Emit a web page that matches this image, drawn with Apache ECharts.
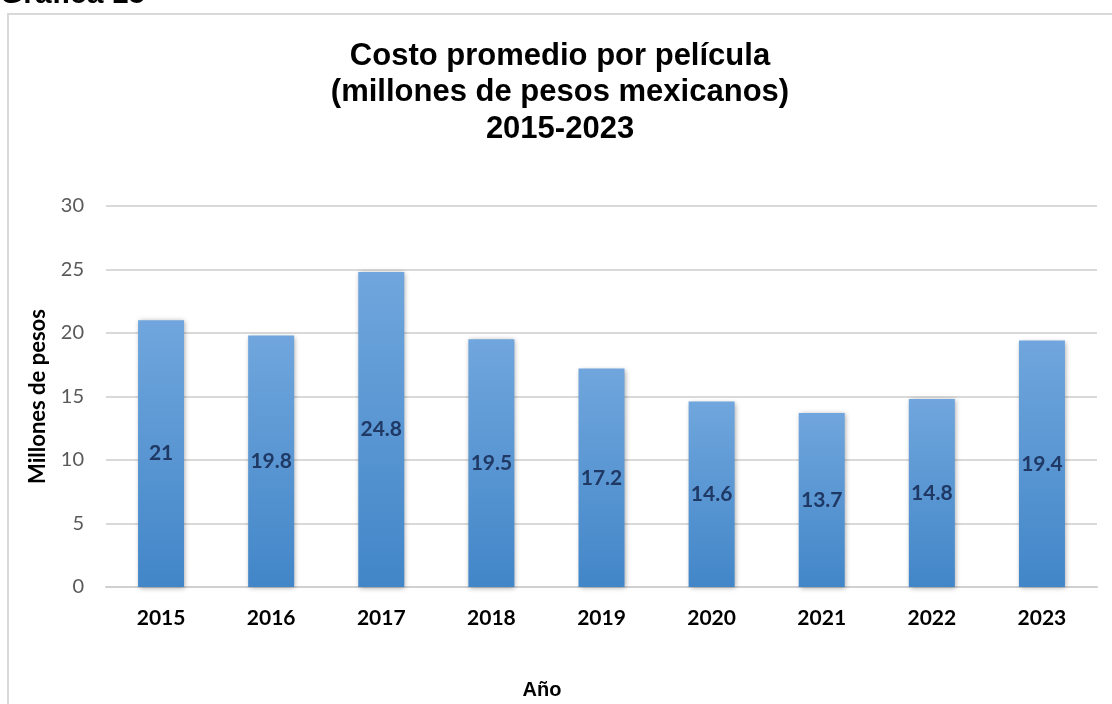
<!DOCTYPE html>
<html>
<head>
<meta charset="utf-8">
<script src="https://cdn.jsdelivr.net/npm/echarts@6/dist/echarts.min.js"></script>
<style>
html,body{margin:0;padding:0;background:#fff;}
#c{width:1112px;height:704px;}
</style>
</head>
<body>
<div id="c"></div>
<script>
var years = ['2015','2016','2017','2018','2019','2020','2021','2022','2023'];
var costs = [21, 19.8, 24.8, 19.5, 17.2, 14.6, 13.7, 14.8, 19.4];
var titleLines = ['Costo promedio por película', '(millones de pesos mexicanos)', '2015-2023'];

var chart = echarts.init(document.getElementById('c'), null, {renderer: 'canvas'});
chart.setOption({
  backgroundColor: '#ffffff',
  animation: false,
  title: {
    text: titleLines.join('\n'),
    left: 555, top: 33, textAlign: 'center',
    textStyle: {fontFamily: 'Liberation Sans, Arial', fontWeight: 'bold', fontSize: 31, lineHeight: 36.5, color: '#000'}
  },
  graphic: [
    {type: 'rect', shape: {x: 8, y: 14, width: 1130, height: 720}, style: {fill: 'none', stroke: '#d9d9d9', lineWidth: 2}, silent: true},
    {type: 'text', x: 0, y: 10, style: {text: 'Gráfica 15', font: 'bold 30px "Liberation Sans", Arial', fill: '#000', textAlign: 'left', textVerticalAlign: 'bottom'}, silent: true},
    {type: 'text', x: 542, y: 690, style: {text: 'Año', font: 'bold 20px "Liberation Sans", Arial', fill: '#000', textAlign: 'center', textVerticalAlign: 'middle'}, silent: true}
  ],
  grid: {left: 106, right: 15, top: 206, bottom: 117},
  xAxis: {
    type: 'category', data: years,
    axisLine: {show: true, lineStyle: {color: '#d0d0d0', width: 2}},
    axisTick: {show: false},
    axisLabel: {margin: 21, color: '#000', fontWeight: 'bold', fontSize: 21, fontFamily: 'Lato, "Open Sans", sans-serif'}
  },
  yAxis: {
    type: 'value', min: 0, max: 30, interval: 5,
    axisLine: {show: false}, axisTick: {show: false},
    splitLine: {lineStyle: {color: '#d9d9d9', width: 2}},
    axisLabel: {margin: 22, color: '#595959', fontSize: 20, fontFamily: 'Lato, "Open Sans", sans-serif'},
    name: 'Millones de pesos', nameLocation: 'middle', nameGap: 57, nameRotate: 90,
    nameTextStyle: {color: '#000', fontWeight: 'bold', fontSize: 22, fontFamily: 'Lato, "Open Sans", sans-serif'}
  },
  series: [{
    type: 'bar', data: costs, barWidth: 46,
    itemStyle: {
      color: new echarts.graphic.LinearGradient(0, 0, 0, 1, [
        {offset: 0, color: '#70a6dd'},
        {offset: 1, color: '#4286c8'}
      ]),
      shadowBlur: 5, shadowColor: 'rgba(0,0,0,0.35)', shadowOffsetX: 1, shadowOffsetY: 1
    },
    label: {
      show: true, position: 'inside', color: '#1f3864', fontWeight: 'bold', fontSize: 21,
      fontFamily: 'Lato, "Open Sans", sans-serif'
    }
  }]
});
</script>
</body>
</html>
